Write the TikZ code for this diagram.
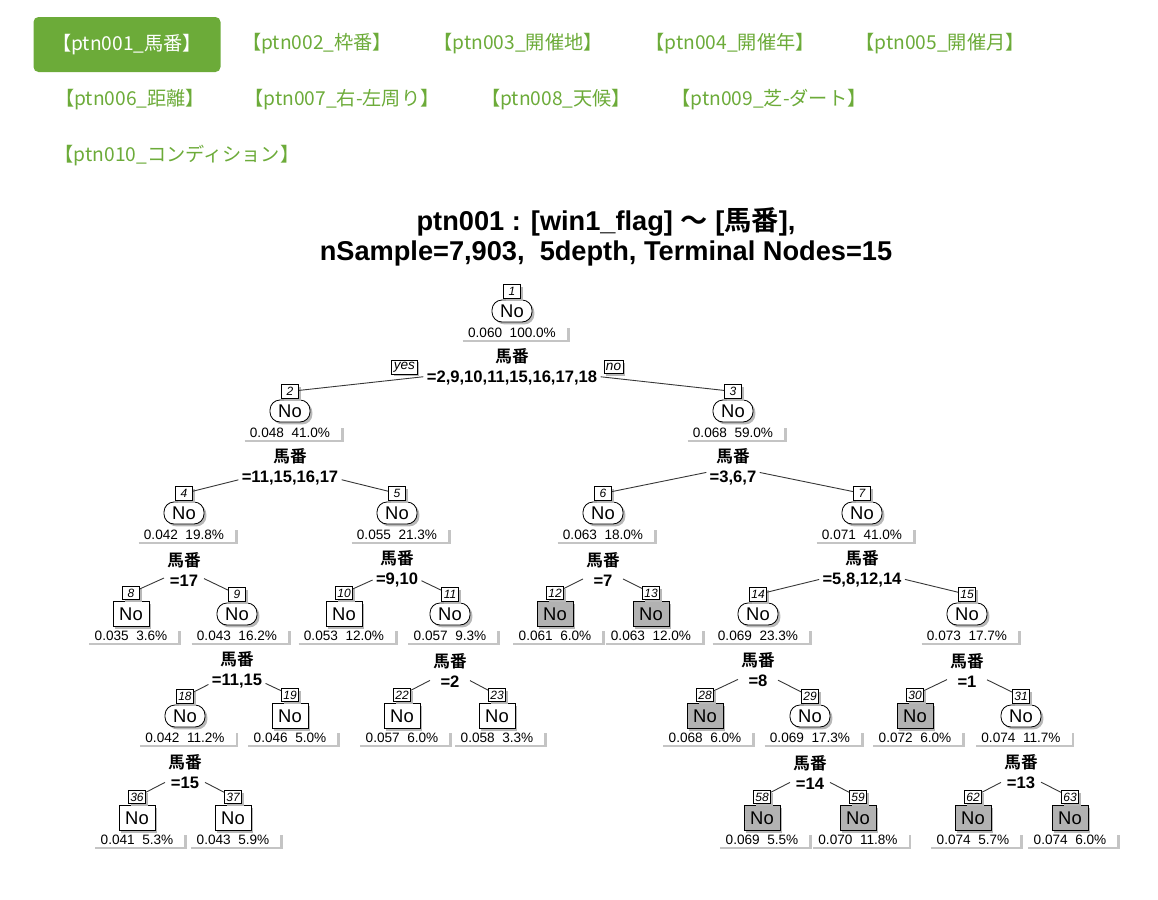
\documentclass[tikz,border=0pt]{standalone}
\usepackage{fontspec}
\setmainfont{Liberation Sans}
\newfontfamily\cjk{Noto Sans CJK JP}[BoldFont={Noto Sans CJK JP Bold}]
\usetikzlibrary{positioning,shadows}

\definecolor{TabGreen}{RGB}{108,171,57}
\definecolor{LeafGrey}{RGB}{178,178,178}
\definecolor{ShadowGrey}{RGB}{196,196,196}
\definecolor{EdgeGrey}{RGB}{55,55,55}

\tikzset{
  tablink/.style={font=\cjk\fontsize{9.6}{11}\selectfont, text=TabGreen, inner sep=0pt},
  activetab/.style={tablink, fill=TabGreen, text=white, rounded corners=2.5pt,
    minimum width=93.5pt, minimum height=27.5pt},
  nshadow/.style={drop shadow={shadow xshift=1.2pt, shadow yshift=-1.2pt, fill=black!28, opacity=1}},
  branchnode/.style={draw, fill=white, rounded corners=5pt, minimum width=20pt,
    minimum height=11pt, inner sep=0pt, nshadow, font=\fontsize{9.2}{10}\selectfont},
  leafnode/.style={branchnode, sharp corners, minimum width=18pt, minimum height=12.5pt},
  darkleaf/.style={leafnode, fill=LeafGrey},
  nodeid/.style={draw, fill=white, inner sep=0.6pt, minimum width=8.5pt, minimum height=6.8pt,
    nshadow, font=\itshape\fontsize{6}{7}\selectfont},
  statbox/.style={inner xsep=4pt, inner ysep=1pt, font=\fontsize{6.8}{8}\selectfont},
  statshadow/.style={ShadowGrey, line width=1.3pt},
  splitlabel/.style={align=center, inner sep=1.5pt, font=\bfseries\fontsize{8.3}{10}\selectfont},
  treeedge/.style={EdgeGrey, line width=0.45pt},
  dirlabel/.style={nodeid, inner sep=1pt, font=\itshape\fontsize{6.8}{8}\selectfont}
}

\begin{document}
\begin{tikzpicture}[x=0.5pt, y=-0.5pt]
  \useasboundingbox (0,0) rectangle (1158,900);

  % Tabs
  \node[activetab] (tab1) at (127,44.5) {【ptn001\_馬番】};
  \node[tablink] (tab2) at (317,44) {【ptn002\_枠番】};
  \node[tablink] (tab3) at (518,44) {【ptn003\_開催地】};
  \node[tablink] (tab4) at (730,44) {【ptn004\_開催年】};
  \node[tablink] (tab5) at (940,44) {【ptn005\_開催月】};
  \node[tablink] (tab6) at (130,100) {【ptn006\_距離】};
  \node[tablink] (tab7) at (342,100) {【ptn007\_右-左周り】};
  \node[tablink] (tab8) at (556,100) {【ptn008\_天候】};
  \node[tablink] (tab9) at (769,100) {【ptn009\_芝-ダート】};
  \node[tablink] (tab10) at (177,156) {【ptn010\_コンディション】};

  % Title
  \node[align=center, font=\bfseries\fontsize{13.6}{15}\selectfont] (title) at (606,237)
    {ptn001 : [win1\_flag] {\cjk ～} [{\cjk 馬番}],\\nSample=7,903,\ \ 5depth, Terminal Nodes=15};

  % Tree nodes
  \foreach \k/\x/\y/\kind/\stat in {
      1/512/311/branchnode/0.060\ \ 100.0\%,
      2/290/411/branchnode/0.048\ \ 41.0\%, 3/733/411/branchnode/0.068\ \ 59.0\%,
      4/184/513/branchnode/0.042\ \ 19.8\%, 5/397/513/branchnode/0.055\ \ 21.3\%,
      6/603/513/branchnode/0.063\ \ 18.0\%, 7/862/513/branchnode/0.071\ \ 41.0\%,
      8/131/614/leafnode/0.035\ \ 3.6\%, 9/237/614/branchnode/0.043\ \ 16.2\%,
      10/344/614/leafnode/0.053\ \ 12.0\%, 11/450/614/branchnode/0.057\ \ 9.3\%,
      12/555/614/darkleaf/0.061\ \ 6.0\%, 13/651/614/darkleaf/0.063\ \ 12.0\%,
      14/758/614/branchnode/0.069\ \ 23.3\%, 15/967/614/branchnode/0.073\ \ 17.7\%,
      18/185/716/branchnode/0.042\ \ 11.2\%, 19/290/716/leafnode/0.046\ \ 5.0\%,
      22/402/716/leafnode/0.057\ \ 6.0\%, 23/497/716/leafnode/0.058\ \ 3.3\%,
      28/705/716/darkleaf/0.068\ \ 6.0\%, 29/810/716/branchnode/0.069\ \ 17.3\%,
      30/915/716/darkleaf/0.072\ \ 6.0\%, 31/1021/716/branchnode/0.074\ \ 11.7\%,
      36/137/818/leafnode/0.041\ \ 5.3\%, 37/233/818/leafnode/0.043\ \ 5.9\%,
      58/762/818/darkleaf/0.069\ \ 5.5\%, 59/858/818/darkleaf/0.070\ \ 11.8\%,
      62/973/818/darkleaf/0.074\ \ 5.7\%, 63/1070/818/darkleaf/0.074\ \ 6.0\%} {
    \node[\kind] (n\k) at (\x,\y) {No};
    \node[nodeid, above=0.5pt of n\k] (id\k) {\k};
    \node[statbox] (st\k) at ([yshift=-11pt]n\k.center) {\stat};
    \draw[statshadow] ([xshift=1.5pt,yshift=-0.3pt]st\k.south west)
      -| ([xshift=2pt,yshift=-1pt]st\k.north east);
  }

  % Splits and branches
  \foreach \k/\cond/\l/\r in {1/{=2,9,10,11,15,16,17,18}/2/3, 2/{=11,15,16,17}/4/5,
      3/{=3,6,7}/6/7, 4/{=17}/8/9, 5/{=9,10}/10/11, 6/{=7}/12/13, 7/{=5,8,12,14}/14/15,
      9/{=11,15}/18/19, 11/{=2}/22/23, 14/{=8}/28/29, 15/{=1}/30/31, 18/{=15}/36/37,
      29/{=14}/58/59, 31/{=13}/62/63} {
    \node[splitlabel] (s\k) at ([yshift=-28pt]n\k.center) {{\cjk 馬番}\\\cond};
    \draw[treeedge] (s\k) -- (id\l);
    \draw[treeedge] (s\k) -- (id\r);
  }

  % yes / no
  \node[dirlabel, left=3pt of s1] (yes) {yes};
  \node[dirlabel, right=1.5pt of s1] (no) {no};
\end{tikzpicture}
\end{document}
